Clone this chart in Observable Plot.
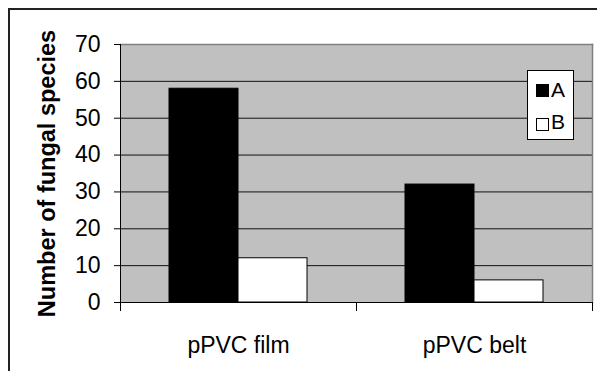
<!DOCTYPE html>
<html>
<head>
<meta charset="utf-8">
<script src="https://cdn.jsdelivr.net/npm/d3@7"></script>
<script src="https://cdn.jsdelivr.net/npm/@observablehq/plot@0.6"></script>
<style>
  html, body { margin: 0; padding: 0; background: #fff; overflow: hidden; }
  #wrap { position: relative; width: 597px; height: 371px; overflow: hidden; font-family: "Liberation Sans", Arial, sans-serif; }
  #outer { position: absolute; left: 8px; top: 8px; width: 700px; height: 500px; border-left: 2px solid #222; border-top: 2px solid #222; pointer-events: none; }
  #chart { position: absolute; left: 0; top: 0; }
  #legend { position: absolute; left: 527px; top: 70px; width: 45px; height: 68px; background: #fff; border: 1px solid #000; }
  #legend .sw { position: absolute; left: 8px; width: 13px; height: 13px; box-sizing: border-box; border: 1px solid #000; }
  #legend .lb { position: absolute; left: 23px; font-size: 21px; line-height: 21px; color: #000; }
</style>
</head>
<body>
<div id="wrap">
  <div id="chart"></div>
  <div id="outer"></div>
  <div id="legend"></div>
</div>
<script>
const categories = ["pPVC film", "pPVC belt"];
const series = ["A", "B"];
const valuesA = [58, 32];
const valuesB = [12, 6];
const yTicks = [0, 10, 20, 30, 40, 50, 60, 70];
const gridTicks = [10, 20, 30, 40, 50, 60];
const seriesColors = ["#000000", "#ffffff"];
const yLabel = "Number of fungal species";

const data = categories.flatMap((c, i) => [
  {cat: c, s: series[0], v: valuesA[i]},
  {cat: c, s: series[1], v: valuesB[i]}
]);

const chart = Plot.plot({
  width: 597,
  height: 371,
  marginTop: 44,
  marginBottom: 69,
  marginLeft: 120,
  marginRight: 5,
  style: {fontFamily: "'Liberation Sans', Arial, sans-serif", fontSize: "22px", background: "transparent", color: "#000"},
  fx: {domain: categories, padding: 0, label: null},
  x: {domain: series, paddingInner: 0, paddingOuter: 0.7, axis: null},
  y: {domain: [0, 70], label: null},
  color: {domain: series, range: seriesColors},
  marks: [
    Plot.frame({fill: "#c0c0c0", stroke: null, facet: "super"}),
    Plot.frame({anchor: "top", stroke: "#808080", strokeWidth: 1.5, facet: "super"}),
    Plot.gridY(gridTicks, {stroke: "#111", strokeOpacity: 1, strokeWidth: 1}),
    Plot.barY(data, {fx: "cat", x: "s", y: "v", fill: "s", stroke: "#000", strokeWidth: 1}),
    Plot.frame({anchor: "bottom", stroke: "#000", strokeWidth: 1, facet: "super"}),
    Plot.frame({anchor: "left", stroke: "#000", strokeWidth: 1, facet: "super"}),
    Plot.frame({anchor: "right", stroke: "#808080", strokeWidth: 1.5, facet: "super"}),
    Plot.frame({anchor: "left", stroke: "#000", strokeWidth: 1, insetTop: 258, insetBottom: -8}),
    Plot.frame({anchor: "right", stroke: "#000", strokeWidth: 1, insetTop: 258, insetBottom: -8, facet: "super"}),
    Plot.axisY({ticks: yTicks, tickSize: 6, tickPadding: 14, fontSize: 23, label: null, tickFormat: d => String(d)}),
    Plot.axisY({ticks: [], label: yLabel, labelAnchor: "center", labelOffset: 82, labelArrow: "none", fontSize: 23.5, fontWeight: "bold"}),
    Plot.axisFx({anchor: "bottom", tickSize: 0, tickPadding: 34, fontSize: 23, label: null})
  ]
});
document.getElementById("chart").appendChild(chart);

// legend
const legend = document.getElementById("legend");
series.forEach((s, i) => {
  const sw = document.createElement("div");
  sw.className = "sw";
  sw.style.top = (13 + i * 34) + "px";
  sw.style.background = seriesColors[i];
  legend.appendChild(sw);
  const lb = document.createElement("div");
  lb.className = "lb";
  lb.style.top = (8 + i * 32) + "px";
  lb.textContent = s;
  legend.appendChild(lb);
});
</script>
</body>
</html>
